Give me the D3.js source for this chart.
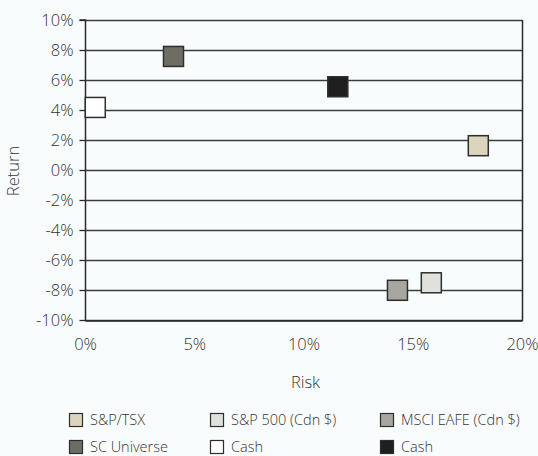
<!DOCTYPE html>
<html><head><meta charset="utf-8">
<script src="https://cdn.jsdelivr.net/npm/d3@7"></script>
<style>
html,body{margin:0;padding:0;background:#f9fcfd;}
svg{display:block;font-family:"Open Sans",sans-serif;}
</style></head>
<body>
<svg id="c" width="538" height="456"></svg>
<script>
const names = ["S&P/TSX","S&P 500 (Cdn $)","MSCI EAFE (Cdn $)","SC Universe","Cash","Cash"];
const risk = [18.0, 15.85, 14.3, 4.05, 0.47, 11.57];
const ret = [1.62, -7.52, -8.02, 7.57, 4.17, 5.55];
const colors = ["#dcd4bd","#e0e0dc","#a7a6a0","#6e6d64","#ffffff","#1f1f1f"];
const xTicks = [0,5,10,15,20];
const yTicks = [-10,-8,-6,-4,-2,0,2,4,6,8,10];

const svg = d3.select("#c");
const L=85, R=522, T=20, B=320;
const x = d3.scaleLinear().domain([0,20]).range([L,R]);
const y = d3.scaleLinear().domain([-10,10]).range([B,T]);
const textCol = "#333333";
const fs = "16.5px";

// gridlines
svg.append("g").selectAll("line").data(yTicks).join("line")
  .attr("x1",L).attr("x2",R)
  .attr("y1",d=>Math.round(y(d))+0.5).attr("y2",d=>Math.round(y(d))+0.5)
  .attr("stroke","#3c3c3c").attr("stroke-width",1.3);
// right border
svg.append("line").attr("x1",R+0.5).attr("x2",R+0.5).attr("y1",T).attr("y2",B+1)
  .attr("stroke","#2a2a2a").attr("stroke-width",1.5);

// left axis
const ya = d3.axisLeft(y).tickValues(yTicks).tickSize(6).tickPadding(6).tickFormat(d=>d+"%");
const gy = svg.append("g").attr("transform",`translate(${L+0.5},0)`).call(ya);
gy.select(".domain").attr("stroke","#2a2a2a").attr("stroke-width",1.5).attr("d",`M-6,${T}H0V${B+1}`);
gy.selectAll(".tick line").attr("stroke","#2a2a2a").attr("stroke-width",1.3);
gy.selectAll(".tick text").attr("fill",textCol).style("font-size",fs).style("font-family","'Open Sans',sans-serif").style("font-weight","300");

// bottom axis
const xa = d3.axisBottom(x).tickValues(xTicks).tickSize(0).tickPadding(18).tickFormat(d=>d+"%");
const gx = svg.append("g").attr("transform",`translate(0,${B+0.5})`).call(xa);
gx.select(".domain").attr("stroke","#2a2a2a").attr("stroke-width",1.5);
gx.selectAll(".tick text").attr("fill",textCol).style("font-size",fs).style("font-family","'Open Sans',sans-serif").style("font-weight","300");

// axis titles
svg.append("text").attr("x",(L+R)/2+2).attr("y",388).attr("text-anchor","middle")
  .attr("fill",textCol).style("font-size",fs).style("font-weight","300").text("Risk");
svg.append("text").attr("transform",`translate(19,${(T+B)/2+1}) rotate(-90)`).attr("text-anchor","middle")
  .attr("fill",textCol).style("font-size",fs).style("font-weight","300").text("Return");

// markers
const s = 20;
svg.append("g").selectAll("rect").data(names.map((n,i)=>i)).join("rect")
  .attr("x",i=>x(risk[i])-s/2).attr("y",i=>y(ret[i])-s/2)
  .attr("width",s).attr("height",s)
  .attr("fill",i=>colors[i]).attr("stroke","#2e2e2e").attr("stroke-width",1.5);

// legend
const colX = [69,210,380], rowY = [420,447];
const lg = svg.append("g").selectAll("g").data(names.map((n,i)=>i)).join("g")
  .attr("transform",i=>`translate(${colX[i%3]},${rowY[Math.floor(i/3)]})`);
lg.append("rect").attr("x",0.5).attr("y",-6.5).attr("width",13).attr("height",13)
  .attr("fill",i=>colors[i]).attr("stroke","#2e2e2e").attr("stroke-width",1.2);
lg.append("text").attr("x",21).attr("y",0).attr("dy","0.35em")
  .attr("fill",textCol).style("font-size","14.5px").style("font-weight","300").text(i=>names[i]);
</script>
</body></html>
